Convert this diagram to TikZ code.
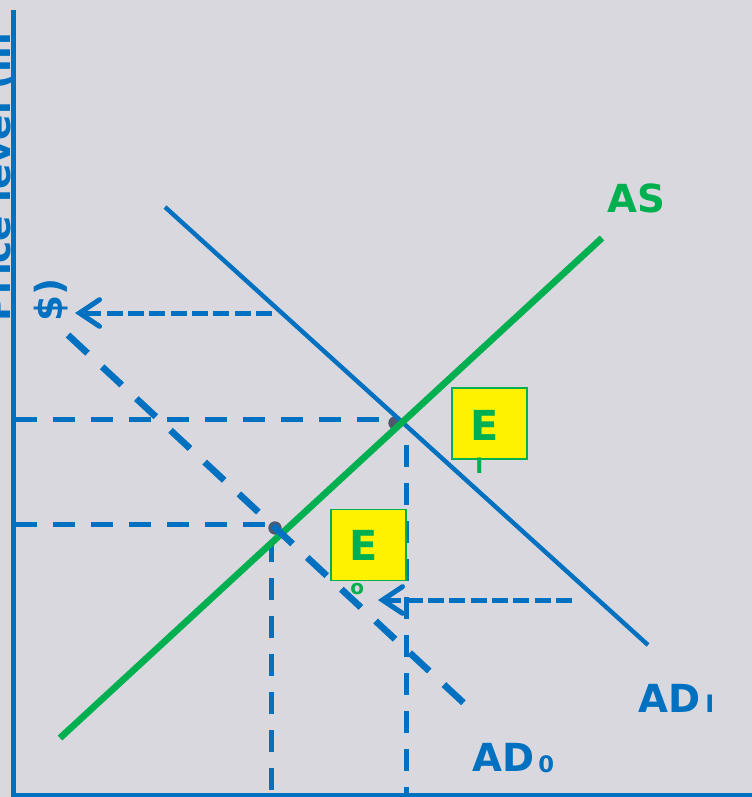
\documentclass[tikz,border=0pt]{standalone}
\usepackage{fontspec}
\setmainfont{DejaVu Sans}
\usetikzlibrary{arrows.meta}
\definecolor{bgc}{RGB}{217,216,222}
\definecolor{myblue}{RGB}{0,112,192}
\definecolor{mygreen}{RGB}{0,176,80}
\definecolor{dotc}{RGB}{80,88,112}
\begin{document}
\begin{tikzpicture}[x=0.75pt,y=-0.75pt,
  axisline/.style={myblue, line width=3.5pt},
  guide/.style={myblue, line width=3.75pt, dash pattern=on 16.5pt off 12pt},
  shiftarrow/.style={myblue, line width=3.75pt, dash pattern=on 12pt off 4pt,
     -{Straight Barb[length=15pt,width=20pt,line cap=round]}},
  adzero/.style={myblue, line width=5pt, dash pattern=on 20pt off 15pt},
  adone/.style={myblue, line width=3.3pt},
  asline/.style={mygreen, line width=5pt},
  eqdot/.style={circle, fill=dotc, minimum size=10pt, inner sep=0pt},
  ebox/.style={draw=mygreen, fill=yellow, line width=1.1pt, minimum width=56.5pt, minimum height=53.5pt, inner sep=0pt},
  biglab/.style={font=\bfseries\fontsize{29}{34}\selectfont, inner sep=0pt, anchor=base west},
  sublab/.style={font=\bfseries\fontsize{18}{20}\selectfont, inner sep=0pt, anchor=base west},
  elab/.style={font=\bfseries\fontsize{31}{36}\selectfont, inner sep=0pt, text=mygreen},
  ylab/.style={font=\bfseries\fontsize{28}{32}\selectfont, inner sep=0pt, anchor=base west, rotate=90, text=myblue}
]
\useasboundingbox (0,0) rectangle (752,797);
\fill[bgc] (0,0) rectangle (752,797);
\clip (0,0) rectangle (752,797);

% coordinates
\coordinate (o) at (13.5,795);
\coordinate (ytop) at (13.5,10);
\coordinate (xend) at (752,795);
\coordinate (as-s) at (60,738);
\coordinate (as-e) at (602,238);
\coordinate (ad1-s) at (165,207);
\coordinate (ad1-e) at (648,645);
\coordinate (ad0-s) at (68,335);
\coordinate (ad0-e) at (468,707);
\coordinate (p1) at (15,419);
\coordinate (q1) at (395,419);
\coordinate (p0) at (15,524);
\coordinate (q0) at (272,524);
\coordinate (v1t) at (406,445);
\coordinate (v1b) at (406,795);
\coordinate (v0t) at (271,540);
\coordinate (v0b) at (271,795);
\coordinate (a1s) at (272,313);
\coordinate (a1e) at (75,313);
\coordinate (a2s) at (572,600);
\coordinate (a2e) at (378,600);

% guides
\draw[guide] (p1) -- (q1);
\draw[guide] (p0) -- (q0);
\draw[guide] (v1t) -- (v1b);
\draw[guide] (v0t) -- (v0b);

% equilibrium dots
\node[eqdot] (e1dot) at (395,423) {};
\node[eqdot] (e0dot) at (275,528) {};

% curves
\draw[adone] (ad1-s) -- (ad1-e);
\draw[asline] (as-s) -- (as-e);
\draw[adzero] (ad0-s) -- (ad0-e);

% shift arrows
\draw[shiftarrow] (a1s) -- (a1e);
\draw[shiftarrow] (a2s) -- (a2e);

% boxes
\node[ebox] (box1) at (489.5,423.5) {};
\node[ebox] (box0) at (368.5,545) {};
\node[elab] (e1) at (485,425) {E};
\node[elab] (e0) at (364,545.5) {E};
\node[sublab, text=mygreen, font=\bfseries\fontsize{16}{18}\selectfont] (e1sub) at (475,473) {I};
\node[sublab, text=mygreen, font=\bfseries\fontsize{15}{17}\selectfont] (e0sub) at (350,594) {o};

% labels
\node[biglab, text=mygreen] (aslab) at (607,212) {AS};
\node[biglab, text=myblue] (ad1lab) at (638,712) {AD};
\node[sublab, text=myblue] (ad1sub) at (705,712) {I};
\node[biglab, text=myblue] (ad0lab) at (472,771.5) {AD};
\node[sublab, text=myblue, font=\bfseries\fontsize{17}{19}\selectfont] (ad0sub) at (538,772) {0};

% axis title (cut off at the left edge, as in the reference)
\node[ylab] (yl1) at (11,322) {Price level (in};
\node[ylab] (yl2) at (62,322) {\$)};

% axes
\draw[axisline] (ytop) -- (o) -- (xend);
\end{tikzpicture}
\end{document}
